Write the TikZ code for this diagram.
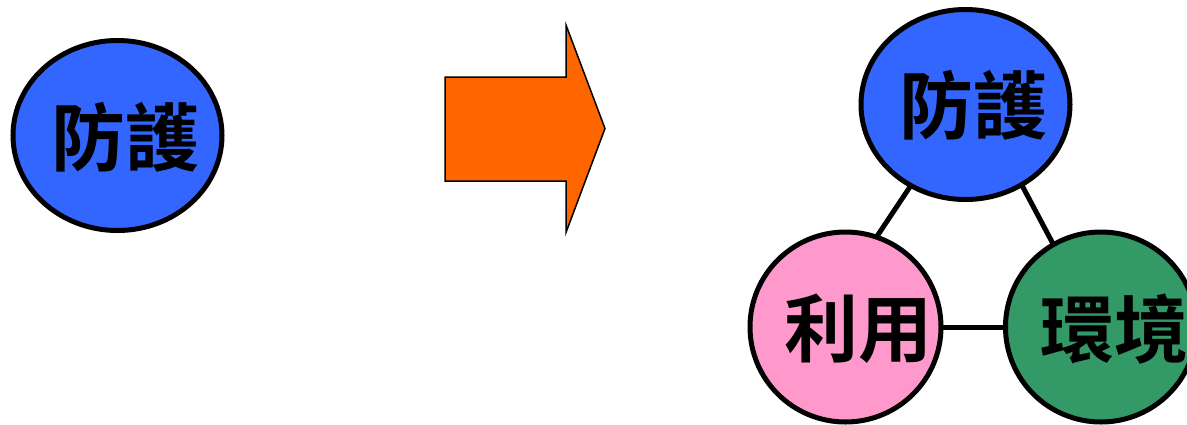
\documentclass[tikz,border=0pt]{standalone}
\usepackage{fontspec}
\newfontfamily\cjk{Noto Sans CJK TC}[BoldFont={Noto Sans CJK TC Bold}]
\usetikzlibrary{shapes.geometric}
\definecolor{cblue}{HTML}{3366FF}
\definecolor{corange}{HTML}{FF6600}
\definecolor{cpink}{HTML}{FF99CC}
\definecolor{cgreen}{HTML}{339966}
\tikzset{
  bubble/.style={ellipse, draw=black, line width=5pt, inner sep=0pt, outer sep=0pt},
  bigbubble/.style={bubble, minimum width=209pt, minimum height=190pt},
  smallbubble/.style={bubble, minimum width=191pt, minimum height=190pt},
  link/.style={line width=5pt, black},
  txt/.style={font=\cjk\bfseries\fontsize{74}{78}\selectfont, inner sep=0pt}
}
\begin{document}
\begin{tikzpicture}[x=1pt,y=-1pt]
\clip (0,0) rectangle (1187,424);
\fill[white] (0,0) rectangle (1187,424);
% left bubble
\node[bigbubble, fill=cblue] (a) at (117.5,135.5) {};
\node[txt] (at) at (125.5,137.5) {防護};
% arrow
\draw[fill=corange, line width=1.5pt, line join=miter]
  (445,77) -- (566,77) -- (566,25) -- (605,128.5) -- (566,232.5) -- (566,181) -- (445,181) -- cycle;
% right group
\node[bigbubble, fill=cblue] (t) at (965.5,104.5) {};
\node[txt] (tt) at (973.5,105) {防護};
\node[smallbubble, fill=cpink] (p) at (845.5,327) {};
\node[txt] (pt) at (858,329) {利用};
\node[smallbubble, fill=cgreen] (g) at (1101,327) {};
\node[txt] (gt) at (1114,329) {環境};
\draw[link] (t.236) -- (p.71);
\draw[link] (t.305) -- (g.120);
\draw[link] (p.east) -- (g.west);
\end{tikzpicture}
\end{document}
